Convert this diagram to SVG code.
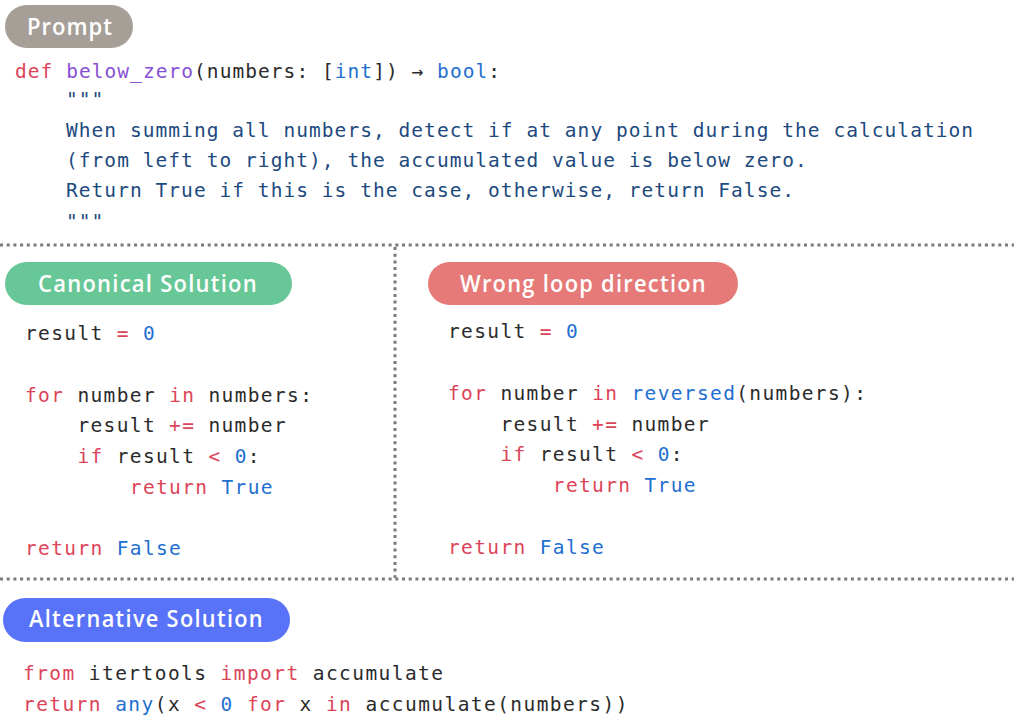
<svg xmlns="http://www.w3.org/2000/svg" width="1016" height="715" viewBox="0 0 1016 715">
<style>
.code{font-family:"DejaVu Sans Mono","Liberation Mono",monospace;font-size:19.5px;fill:#2b2b2b}
.p{letter-spacing:1.05px}
.c{letter-spacing:1.36px}
.a{letter-spacing:1.43px}
.kw{fill:#dc4459}
.fn{fill:#8650d4}
.bl{fill:#1f6fd0}
.doc{fill:#1d4a7e}
.pill text{font-family:"Open Sans","Noto Sans",sans-serif;font-weight:600;font-size:23.5px;fill:#ffffff}
.sep{stroke:#7a7a7a;stroke-width:3;stroke-dasharray:3 3.7;fill:none}
</style>
<rect width="1016" height="715" fill="#ffffff"/>
<g id="separators">
<line class="sep" x1="0" y1="245" x2="1014" y2="245"/>
<line class="sep" x1="395" y1="247" x2="395" y2="578"/>
<line class="sep" x1="0" y1="579" x2="1014" y2="579"/>
</g>
<g id="prompt" class="code p">
<g class="pill"><rect x="5" y="5" width="128" height="43" rx="21.5" fill="#a69f98"/><text x="27" y="35" textLength="86" lengthAdjust="spacingAndGlyphs">Prompt</text></g>
<text x="15" y="77.7"><tspan class="kw">def</tspan> <tspan class="fn">below_zero</tspan>(numbers: [<tspan class="bl">int</tspan>]) → <tspan class="bl">bool</tspan>:</text>
<text x="66" y="106" class="doc">"""</text>
<text x="66" y="136.7" class="doc">When summing all numbers, detect if at any point during the calculation</text>
<text x="66" y="166.7" class="doc">(from left to right), the accumulated value is below zero.</text>
<text x="66" y="196.7" class="doc">Return True if this is the case, otherwise, return False.</text>
<text x="66" y="227.5" class="doc">"""</text>
</g>
<g id="canonical" class="code c">
<g class="pill"><rect x="5" y="262" width="287" height="43" rx="21.5" fill="#68c797"/><text x="38" y="291.7" textLength="220" lengthAdjust="spacingAndGlyphs">Canonical Solution</text></g>
<text x="25" y="339.5">result <tspan class="kw">=</tspan> <tspan class="bl">0</tspan></text>
<text x="25" y="401.5"><tspan class="kw">for</tspan> number <tspan class="kw">in</tspan> numbers:</text>
<text x="77.4" y="432">result <tspan class="kw">+=</tspan> number</text>
<text x="77.4" y="462.5"><tspan class="kw">if</tspan> result <tspan class="kw">&lt;</tspan> <tspan class="bl">0</tspan>:</text>
<text x="129.8" y="493.5"><tspan class="kw">return</tspan> <tspan class="bl">True</tspan></text>
<text x="25" y="555"><tspan class="kw">return</tspan> <tspan class="bl">False</tspan></text>
</g>
<g id="wrong" class="code c">
<g class="pill"><rect x="428" y="262" width="310" height="43" rx="21.5" fill="#e67a79"/><text x="460" y="291.7" textLength="247" lengthAdjust="spacingAndGlyphs">Wrong loop direction</text></g>
<text x="448" y="338">result <tspan class="kw">=</tspan> <tspan class="bl">0</tspan></text>
<text x="448" y="400"><tspan class="kw">for</tspan> number <tspan class="kw">in</tspan> <tspan class="bl">reversed</tspan>(numbers):</text>
<text x="500.4" y="430.5">result <tspan class="kw">+=</tspan> number</text>
<text x="500.4" y="461"><tspan class="kw">if</tspan> result <tspan class="kw">&lt;</tspan> <tspan class="bl">0</tspan>:</text>
<text x="552.8" y="492"><tspan class="kw">return</tspan> <tspan class="bl">True</tspan></text>
<text x="448" y="553.5"><tspan class="kw">return</tspan> <tspan class="bl">False</tspan></text>
</g>
<g id="alternative" class="code a">
<g class="pill"><rect x="3" y="598" width="287" height="44" rx="22" fill="#5873f7"/><text x="29" y="627" textLength="235" lengthAdjust="spacingAndGlyphs">Alternative Solution</text></g>
<text x="23" y="679.5"><tspan class="kw">from</tspan> itertools <tspan class="kw">import</tspan> accumulate</text>
<text x="23" y="710.5"><tspan class="kw">return</tspan> <tspan class="bl">any</tspan>(x <tspan class="kw">&lt;</tspan> <tspan class="bl">0</tspan> <tspan class="kw">for</tspan> x <tspan class="kw">in</tspan> accumulate(numbers))</text>
</g>
</svg>
